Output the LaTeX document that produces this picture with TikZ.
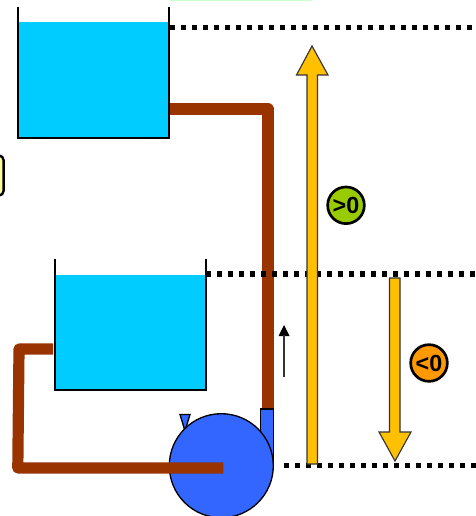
\documentclass[tikz,border=0pt]{standalone}
\usepackage{fontspec}
\setmainfont{Liberation Sans}
\definecolor{water}{RGB}{0,204,255}
\definecolor{pipe}{RGB}{153,51,0}
\definecolor{pumpblue}{RGB}{51,102,255}
\definecolor{amber}{RGB}{255,192,0}
\definecolor{limeg}{RGB}{153,204,0}
\definecolor{orangeb}{RGB}{255,153,0}
\definecolor{noteyellow}{RGB}{255,255,153}
\definecolor{notegreen}{RGB}{204,255,204}
\tikzset{
  x=0.75pt,y=-0.75pt,
  wall/.style={draw=black,line width=1.7pt,line cap=rect},
  waterfill/.style={fill=water,draw=none},
  pipeline/.style={draw=pipe,line width=8.4pt,line join=round},
  levelline/.style={draw=black,line width=4.1pt,dash pattern=on 4.1pt off 4.15pt},
  blockarrow/.style={fill=amber,draw=black!80,line width=0.85pt,line join=miter},
  pumpbody/.style={fill=pumpblue,draw=black,line width=1pt},
  signbadge/.style={circle,draw=black,line width=2pt,minimum size=27.5pt,inner sep=0pt,
    font=\fontsize{17.5}{18}\selectfont\bfseries,text=black},
}
\begin{document}
\begin{tikzpicture}
\useasboundingbox (0,0) rectangle (475,516);
% clipped fragments at the picture's edge
\fill[notegreen] (170,-1) rectangle (312,0.8);
\draw[fill=noteyellow,line width=1.8pt,rounded corners=3.5pt] (-12,155.5) rectangle (3.6,195.5);
% level lines
\coordinate (levelA) at (170,27.5);
\coordinate (levelAend) at (476,27.5);
\coordinate (levelB) at (206,274);
\coordinate (levelBend) at (476,274);
\coordinate (levelC) at (284,465.5);
\coordinate (levelCend) at (476,465.5);
% upper tank
\fill[waterfill] (18.5,22) rectangle (169,137.7);
\draw[wall] (18,8) -- (18,137.7) -- (169,137.7) -- (169,8);
% lower tank
\fill[waterfill] (55,275) rectangle (206,390);
\draw[wall] (55,260) -- (55,390) -- (206,390) -- (206,260);
% pipes
\draw[pipeline] (170,109) -- (268,109) -- (268,409);
\draw[levelline] (levelA) -- (levelAend);
\draw[levelline] (levelB) -- (levelBend);
\draw[levelline] (levelC) -- (levelCend);
% pump
\draw[pumpbody] (180,414.5) -- (190,414.5) -- (185,431) -- cycle;
\draw[pumpbody] (260.5,409) rectangle (273.5,465);
\node[pumpbody,circle,minimum size=78pt,inner sep=0pt] (pump) at (221.3,465.7) {};
\draw[pipeline,line join=round] (53,349) -- (19,349) -- (17.8,468) -- (223.3,468);
% flow arrow
\coordinate (flowA) at (284,377);
\coordinate (flowB) at (284,325);
\fill[black] (flowB) -- (289.5,336) -- (278.5,336) -- cycle;
\draw[black!80,line width=0.85pt] (flowA) -- (284,335);
% height arrows
\draw[blockarrow] (312,46) -- (328,75) -- (317.5,75) -- (317.5,464) -- (307,464) -- (307,75) -- (296.5,75) -- cycle;
\draw[blockarrow] (389.5,278) -- (400,278) -- (400,432) -- (411,432) -- (395,461) -- (379,432) -- (389.5,432) -- cycle;
% badges
\node[signbadge,fill=limeg] (gt) at (346,205.3) {>0};
\node[signbadge,fill=orangeb] (lt) at (429,363) {<0};
\end{tikzpicture}
\end{document}
